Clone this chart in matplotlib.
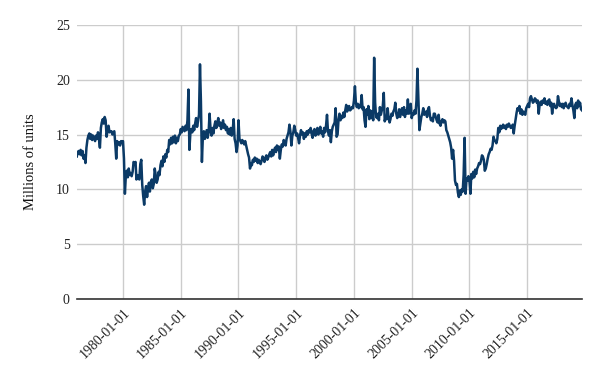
import pandas as pd
import matplotlib
matplotlib.use("Agg")
import matplotlib.pyplot as plt
import matplotlib.dates as mdates

# monthly sales, millions of units (SAAR)
y1976 = [13.0, 13.4, 13.5, 13.2, 13.6, 13.1, 13.5, 12.8, 13.1, 12.4, 13.8, 14.5]
y1977 = [14.9, 15.1, 14.6, 15.0, 14.5, 14.9, 14.7, 14.4, 14.9, 14.6, 15.2, 14.6]
y1978 = [13.8, 15.6, 16.1, 16.4, 16.0, 16.6, 16.3, 14.8, 15.4, 15.8, 15.2, 15.3]
y1979 = [15.3, 15.0, 15.2, 15.3, 14.2, 12.8, 14.4, 14.1, 14.3, 14.0, 14.4, 14.3]
y1980 = [14.4, 12.8, 9.6, 11.3, 11.7, 11.1, 11.9, 11.3, 11.5, 11.2, 11.6, 12.5]
y1981 = [12.4, 12.5, 10.9, 11.3, 11.0, 10.9, 12.3, 12.7, 10.4, 9.4, 8.6, 9.8]
y1982 = [10.3, 9.3, 10.0, 10.6, 9.8, 10.7, 10.9, 10.1, 10.5, 11.9, 11.3, 10.6]
y1983 = [10.9, 11.6, 11.3, 12.2, 12.6, 12.1, 13.0, 12.5, 13.2, 12.9, 13.6, 13.4]
y1984 = [14.5, 14.1, 14.7, 14.2, 14.8, 14.3, 14.9, 14.2, 14.7, 14.4, 14.9, 15.0]
y1985 = [15.5, 15.2, 15.7, 15.5, 15.3, 15.8, 15.4, 16.3, 19.1, 13.6, 15.1, 15.5]
y1986 = [15.2, 15.8, 15.4, 16.0, 16.5, 15.7, 16.2, 16.8, 21.4, 18.0, 12.5, 14.8]
y1987 = [15.3, 14.6, 15.0, 15.4, 14.7, 15.2, 16.9, 15.5, 14.9, 15.6, 15.1, 15.8]
y1988 = [16.2, 15.6, 16.0, 16.5, 15.8, 16.1, 15.5, 15.9, 16.3, 15.6, 15.9, 15.4]
y1989 = [15.7, 15.1, 15.5, 15.0, 15.6, 14.9, 15.4, 16.4, 14.6, 14.2, 13.4, 14.0]
y1990 = [16.3, 14.6, 14.4, 14.2, 14.5, 14.3, 14.1, 14.4, 14.0, 13.6, 13.2, 12.9]
y1991 = [11.9, 12.4, 12.2, 12.7, 12.5, 12.9, 12.6, 12.8, 12.4, 12.7, 12.5, 12.3]
y1992 = [12.6, 13.0, 12.8, 12.5, 12.9, 13.1, 12.7, 12.9, 13.2, 13.4, 13.0, 13.6]
y1993 = [13.1, 13.5, 13.8, 13.4, 14.0, 13.6, 13.9, 12.8, 13.6, 14.1, 13.9, 14.5]
y1994 = [14.3, 14.0, 14.6, 14.9, 15.2, 15.9, 15.3, 14.0, 14.9, 15.2, 15.8, 15.4]
y1995 = [14.9, 15.1, 14.7, 14.2, 14.9, 15.4, 15.0, 15.2, 14.6, 15.1, 14.8, 15.3]
y1996 = [15.0, 15.4, 15.2, 15.6, 15.1, 14.7, 15.3, 15.5, 14.9, 15.2, 15.6, 15.0]
y1997 = [15.4, 15.7, 15.1, 15.3, 14.8, 15.6, 15.2, 15.8, 16.8, 15.3, 14.9, 15.4]
y1998 = [14.3, 15.3, 15.7, 15.9, 16.1, 17.4, 14.8, 15.0, 16.4, 16.9, 16.3, 16.7]
y1999 = [16.5, 17.0, 16.6, 17.2, 17.7, 17.1, 17.5, 17.6, 17.2, 17.3, 17.5, 17.4]
y2000 = [18.1, 19.4, 17.9, 17.5, 17.8, 17.4, 17.7, 17.5, 18.6, 17.3, 17.5, 16.3]
y2001 = [15.7, 17.3, 16.8, 17.6, 16.4, 17.2, 16.5, 17.1, 16.3, 22.0, 17.9, 16.6]
y2002 = [16.5, 16.9, 16.3, 17.5, 16.8, 17.2, 17.6, 18.8, 16.2, 16.6, 16.4, 17.4]
y2003 = [16.5, 16.1, 16.4, 16.9, 16.7, 17.1, 17.3, 17.9, 16.9, 16.5, 16.7, 17.3]
y2004 = [16.6, 17.0, 17.4, 16.8, 17.5, 16.6, 17.2, 16.9, 18.2, 16.9, 17.0, 17.8]
y2005 = [16.5, 16.9, 16.8, 17.2, 16.9, 18.1, 21.0, 18.3, 15.4, 16.0, 16.6, 16.9]
y2006 = [17.4, 16.8, 16.9, 17.1, 16.6, 17.3, 17.5, 16.7, 16.3, 16.5, 16.2, 16.9]
y2007 = [16.9, 16.6, 16.3, 16.1, 16.8, 16.0, 15.8, 16.2, 16.4, 16.1, 16.3, 16.2]
y2008 = [15.4, 15.2, 14.9, 14.6, 14.3, 13.8, 12.8, 13.6, 12.6, 10.8, 10.4, 10.5]
y2009 = [9.7, 9.3, 9.9, 9.5, 10.0, 9.8, 11.3, 14.7, 9.6, 11.0, 10.8, 11.2]
y2010 = [10.8, 9.6, 11.4, 11.0, 11.6, 11.1, 11.8, 11.4, 11.9, 12.1, 12.4, 12.3]
y2011 = [12.6, 13.1, 13.0, 12.7, 11.7, 11.9, 12.3, 12.8, 13.2, 13.4, 13.7, 13.6]
y2012 = [14.0, 14.8, 14.5, 14.4, 14.2, 14.6, 15.6, 15.2, 15.8, 15.5, 15.7, 15.9]
y2013 = [15.6, 15.8, 15.5, 15.9, 15.7, 16.0, 15.8, 15.6, 15.7, 15.9, 15.1, 15.8]
y2014 = [16.4, 17.0, 17.4, 17.2, 17.6, 16.9, 17.3, 16.8, 17.1, 17.0, 16.8, 17.4]
y2015 = [17.6, 17.8, 17.5, 18.3, 18.5, 18.2, 17.9, 18.0, 18.3, 18.2, 17.9, 18.1]
y2016 = [16.9, 17.8, 18.0, 17.7, 18.1, 17.9, 18.3, 17.8, 18.0, 17.7, 18.1, 18.2]
y2017 = [17.6, 17.9, 16.9, 17.7, 17.8, 17.5, 17.4, 17.5, 18.5, 18.0, 17.6, 17.8]
y2018 = [17.5, 17.8, 17.4, 17.7, 17.9, 17.6, 17.5, 17.4, 17.8, 17.6, 18.3, 17.7]
y2019 = [17.2, 16.5, 17.7, 17.9, 17.4, 18.1, 17.6, 17.9, 17.3, 17.2]

sales = (y1976 + y1977 + y1978 + y1979 + y1980 + y1981 + y1982 + y1983 + y1984
         + y1985 + y1986 + y1987 + y1988 + y1989 + y1990 + y1991 + y1992 + y1993
         + y1994 + y1995 + y1996 + y1997 + y1998 + y1999 + y2000 + y2001 + y2002
         + y2003 + y2004 + y2005 + y2006 + y2007 + y2008 + y2009 + y2010 + y2011
         + y2012 + y2013 + y2014 + y2015 + y2016 + y2017 + y2018 + y2019)
dates = pd.date_range("1976-01-01", periods=len(sales), freq="MS")

tick_dates = pd.to_datetime(["1980-01-01", "1985-01-01", "1990-01-01", "1995-01-01",
                             "2000-01-01", "2005-01-01", "2010-01-01", "2015-01-01"])
y_ticks = [0, 5, 10, 15, 20, 25]

plt.rcParams["font.family"] = ["Liberation Serif", "DejaVu Serif"]

fig = plt.figure(figsize=(6, 3.71), dpi=100)
ax = fig.add_axes([0.128, 0.194, 0.842, 0.739])

ax.plot(dates, sales, color="#0b3a66", lw=1.8, zorder=3)

ax.set_xlim(dates[0], dates[-1])
ax.set_ylim(0, 25)
ax.set_yticks(y_ticks)
ax.set_xticks(tick_dates)
ax.xaxis.set_major_formatter(mdates.DateFormatter("%Y-%m-%d"))
ax.grid(True, color="#cccccc", lw=1)
ax.set_axisbelow(True)

for s in ["top", "right", "left"]:
    ax.spines[s].set_visible(False)
ax.spines["bottom"].set_color("#333333")
ax.spines["bottom"].set_linewidth(1.2)

ax.tick_params(length=0, labelsize=10, colors="#222222", pad=5)
plt.setp(ax.get_xticklabels(), rotation=45, ha="right", rotation_mode="anchor")
ax.set_ylabel("Millions of units", fontsize=10.5, labelpad=14, color="#111111")

fig.savefig("out.png", dpi=100)
